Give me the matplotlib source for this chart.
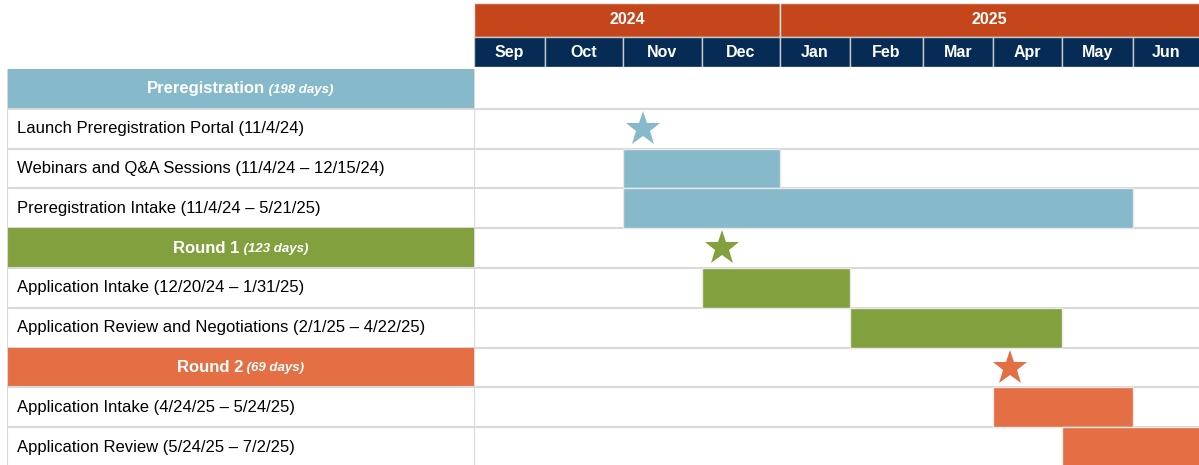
import numpy as np
import matplotlib
matplotlib.use("Agg")
import matplotlib.pyplot as plt
from matplotlib.patches import Rectangle

plt.rcParams["font.family"] = ["Liberation Sans", "DejaVu Sans"]

# %%
# data
years = ["2024", "2025"]
year_span = [(0, 4), (4, 10)]          # month index ranges
months = ["Sep", "Oct", "Nov", "Dec", "Jan", "Feb", "Mar", "Apr", "May", "Jun"]

groups = ["Preregistration", "Round 1", "Round 2"]
group_days = ["198 days", "123 days", "69 days"]

rows = ["Preregistration",
        "Launch Preregistration Portal (11/4/24)",
        "Webinars and Q&A Sessions (11/4/24 \u2013 12/15/24)",
        "Preregistration Intake (11/4/24 \u2013 5/21/25)",
        "Round 1",
        "Application Intake (12/20/24 \u2013 1/31/25)",
        "Application Review and Negotiations (2/1/25 \u2013 4/22/25)",
        "Round 2",
        "Application Intake (4/24/25 \u2013 5/24/25)",
        "Application Review (5/24/25 \u2013 7/2/25)"]
row_group = [0, 0, 0, 0, 1, 1, 1, 2, 2, 2]
is_header = [True, False, False, False, True, False, False, True, False, False]

# bars: row index, start month, end month (Sep = 0)
bar_row = [2, 3, 5, 6, 8, 9]
bar_start = [2, 2, 3, 5, 7, 8]
bar_end = [4, 9, 5, 8, 9, 11]

# milestones (stars)
star_row = [1, 4, 7]
star_pos = [2.25, 3.25, 7.25]

# %%
# style
colors = ["#86B9C9", "#83A03F", "#E46F44"]
year_color = "#C4461A"
month_color = "#062C55"
line_color = "#D9D9D9"

W, H = 1199, 465
# uneven month column edges (pixels), as in the source spreadsheet
col_edges = np.array([474, 545, 623, 702, 780, 850, 923, 993, 1062, 1133, 1203])
col_idx = np.arange(len(col_edges))


def fwd(m):
    return np.interp(m, col_idx, col_edges)


def inv(p):
    return np.interp(p, col_edges, col_idx)


def rect(x0, y0, x1, y1):
    return [x0 / W, 1 - y1 / H, (x1 - x0) / W, (y1 - y0) / H]


def visible_center(a, b):
    # centre of a column span, clipped to the right edge of the picture
    return inv((fwd(a) + min(fwd(b), W)) / 2)


fig = plt.figure(figsize=(W / 100, H / 100), dpi=100)

row_top, row_h = 69, 39.8
n_vis = (H - row_top) / row_h

ax_lab = fig.add_axes(rect(7, row_top, 474, H))
ax_g = fig.add_axes(rect(474, row_top, W, H))
ax_hdr = fig.add_axes(rect(474, 3, W, 67))

for ax in (ax_g, ax_hdr):
    ax.set_xscale("function", functions=(fwd, inv))
    ax.set_xlim(0, inv(W))

ax_lab.set_xlim(0, 1)
for ax in (ax_lab, ax_g):
    ax.set_ylim(n_vis, 0)
ax_hdr.set_ylim(2, 0)

for ax in (ax_lab, ax_g, ax_hdr):
    ax.set_axis_off()

# header: years and months
for name, (a, b) in zip(years, year_span):
    ax_hdr.add_patch(Rectangle((a, 0), b - a, 1.07, facecolor=year_color,
                               edgecolor="#E8E8E8", lw=1))
    ax_hdr.text(visible_center(a, b), 0.52, name, ha="center", va="center",
                color="white", fontsize=11.5, fontweight="bold")
for i, m in enumerate(months):
    ax_hdr.add_patch(Rectangle((i, 1.07), 1, 0.93, facecolor=month_color,
                               edgecolor="#C8C8C8", lw=1))
    ax_hdr.text(visible_center(i, i + 1), 1.55, m, ha="center", va="center",
                color="white", fontsize=11.5, fontweight="bold")

# left table
fig.canvas.draw()
renderer = fig.canvas.get_renderer()
w_ax = ax_lab.get_window_extent(renderer).width
for r, label in enumerate(rows):
    g = row_group[r]
    if is_header[r]:
        ax_lab.add_patch(Rectangle((0, r), 1, 1, facecolor=colors[g],
                                   edgecolor="none"))
        t1 = ax_lab.text(0.5, r + 0.5, label, ha="center", va="center",
                         color="white", fontsize=12, fontweight="bold")
        t2 = ax_lab.annotate(" (" + group_days[g] + ")", xy=(1, 0.45), xycoords=t1,
                             ha="left", va="center", color="white",
                             fontsize=9.5, fontweight="bold", fontstyle="italic")
        w2 = t2.get_window_extent(renderer).width
        t1.set_x(0.5 - w2 / 2 / w_ax)
    else:
        ax_lab.text(10 / 467, r + 0.5, label, ha="left", va="center",
                    color="black", fontsize=12)
    for ax in (ax_lab, ax_g):
        ax.axhline(r + 1, color=line_color, lw=1.5, zorder=1)

ax_lab.axvline(0, color=line_color, lw=1.5)
ax_g.axvline(0, color=line_color, lw=1.5)

# bars
for r, s, e in zip(bar_row, bar_start, bar_end):
    ax_g.add_patch(Rectangle((s, r), e - s, 1, facecolor=colors[row_group[r]],
                             edgecolor="#E8E8E8", lw=1, zorder=2))

# milestones
for r, p in zip(star_row, star_pos):
    ax_g.plot(p, r + 0.5, marker="*", markersize=26, color=colors[row_group[r]],
              markeredgewidth=0, zorder=3)

fig.savefig("out.png", dpi=100)
